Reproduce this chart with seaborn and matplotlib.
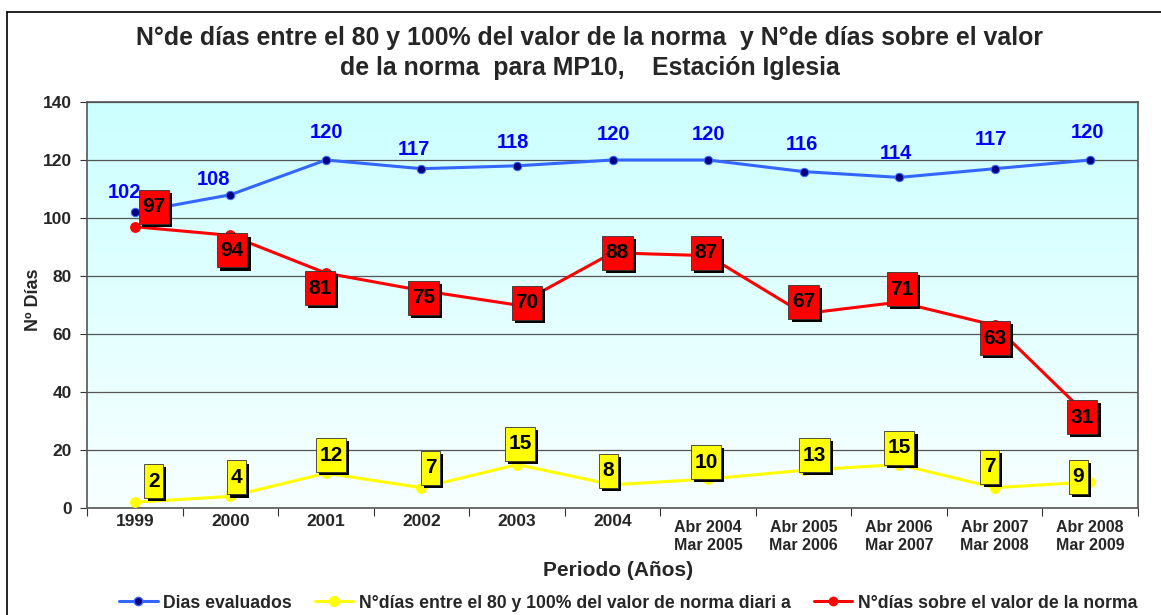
import numpy as np
import pandas as pd
import matplotlib
matplotlib.use("Agg")
import matplotlib.pyplot as plt
import matplotlib.patheffects as pe
import matplotlib.transforms as mtransforms
from matplotlib.path import Path
from matplotlib.lines import Line2D
import seaborn as sns

# data
periods = ["1999", "2000", "2001", "2002", "2003", "2004",
           "Abr 2004\nMar 2005", "Abr 2005\nMar 2006", "Abr 2006\nMar 2007",
           "Abr 2007\nMar 2008", "Abr 2008\nMar 2009"]
dias_evaluados = [102, 108, 120, 117, 118, 120, 120, 116, 114, 117, 120]
dias_80_100 = [2, 4, 12, 7, 15, 8, 10, 13, 15, 7, 9]
dias_sobre = [97, 94, 81, 75, 70, 88, 87, 67, 71, 63, 31]

# label offsets in pixels (right, up) from each point
blue_off = [(-10, 20), (-17, 15), (1, 27), (-7, 19), (-4, 23), (1, 25), (0, 25), (-2, 27), (-3, 24), (-4, 29), (-3, 28)]
red_off = [(19, 20), (2, -15), (-6, -15), (2, -7), (10, 2), (5, 0), (-2, 3), (0, 12), (3, 13), (0, -13), (-8, 1)]
yel_off = [(19, 21), (6, 19), (5, 18), (9, 20), (3, 21), (-4, 14), (-2, 17), (11, 15), (0, 17), (-5, 21), (-12, 5)]

sns.set_style("white")
plt.rcParams['font.family'] = ['Liberation Sans', 'DejaVu Sans']
plt.rcParams['font.weight'] = 'bold'

df = pd.DataFrame({"periodo": periods, "eval": dias_evaluados,
                   "p80": dias_80_100, "sobre": dias_sobre})
df["x"] = np.arange(len(periods)) + 0.5

fig = plt.figure(figsize=(11.61, 6.15), dpi=100)
ax = fig.add_axes([87/1161, 1 - 508/615, (1138-87)/1161, (508-102)/615])

# gradient background cyan -> white
grad = np.linspace(0, 1, 256).reshape(-1, 1)
cmap = matplotlib.colors.LinearSegmentedColormap.from_list("bg", ["#f8ffff", "#ccffff"])
ax.imshow(grad, aspect="auto", cmap=cmap, extent=(0, 11, 0, 140), origin="lower", zorder=0)

sns.lineplot(data=df, x="x", y="eval", ax=ax, color="#3366ff", lw=2.2, marker="o",
             markersize=6, markerfacecolor="#000080", markeredgecolor="#3366ff", zorder=3)
sns.lineplot(data=df, x="x", y="p80", ax=ax, color="#ffff00", lw=2.2, marker="o",
             markersize=7, markerfacecolor="#ffff00", markeredgecolor="#ffff00", zorder=3)
sns.lineplot(data=df, x="x", y="sobre", ax=ax, color="#ff0000", lw=2.2, marker="o",
             markersize=7, markerfacecolor="#ff0000", markeredgecolor="#ff0000", zorder=3)


def tallbox(x0, y0, width, height, mutation_size):
    px = 0.17 * mutation_size
    py = 0.36 * mutation_size
    x0, y0 = x0 - px, y0 - py
    x1, y1 = x0 + width + 2 * px, y0 + height + 2 * py
    return Path([(x0, y0), (x1, y0), (x1, y1), (x0, y1), (x0, y0)], closed=True)


def boxed(x, y, val, off, face):
    t = ax.annotate(str(val), (x, y), xytext=off, textcoords="offset pixels",
                    ha="center", va="center", fontsize=15, fontweight="bold", color="black",
                    bbox=dict(boxstyle=tallbox, fc=face, ec="#333333", lw=0.6), zorder=6)
    t.get_bbox_patch().set_path_effects(
        [pe.SimplePatchShadow(offset=(2.3, -2.3), shadow_rgbFace="black", alpha=1), pe.Normal()])


for i, row in df.iterrows():
    ax.annotate(str(row["eval"]), (row["x"], row["eval"]), xytext=blue_off[i],
                textcoords="offset pixels", ha="center", va="center",
                fontsize=14.5, fontweight="bold", color="#0000ff", zorder=6)
    boxed(row["x"], row["sobre"], row["sobre"], red_off[i], "#ff0000")
    boxed(row["x"], row["p80"], row["p80"], yel_off[i], "#ffff00")

ax.set_xlim(0, 11)
ax.set_ylim(0, 140)
ax.set_yticks(range(0, 141, 20))
ax.yaxis.grid(True, color="#555555", lw=0.9)
for ln in ax.get_ygridlines():
    ln.set_zorder(1)
ax.set_xticks(range(0, 12))
ax.set_xticklabels([])
ax.set_xticks(df["x"], minor=True)
ax.set_xticklabels(periods, minor=True, fontweight="bold")
ax.tick_params(axis="x", which="major", direction="out", length=6, color="#333333", bottom=True)
ax.tick_params(axis="x", which="minor", length=0, pad=9)
ax.tick_params(axis="y", direction="out", length=5, color="#333333", left=True, labelsize=12.5, pad=6)
lift = mtransforms.ScaledTranslation(0, 7/100, fig.dpi_scale_trans)
for t, p in zip(ax.get_xticklabels(minor=True), periods):
    if "\n" in p:
        t.set_fontsize(11.5)
    else:
        t.set_fontsize(12.5)
        t.set_transform(t.get_transform() + lift)
for t in ax.get_yticklabels():
    t.set_fontweight("bold")
ax.set_xlabel("")
ax.set_ylabel("")
fig.text(33/1161, 1 - 300/615, "Nº Días", rotation=90, ha="center", va="center",
         fontsize=13, fontweight="bold")
for s in ax.spines.values():
    s.set_color("#555555")
    s.set_linewidth(1.2)

fig.text(590/1161, 1 - 38/615, "N°de días entre el 80 y 100% del valor de la norma  y N°de días sobre el valor",
         ha="center", va="center", fontsize=17.9, fontweight="bold")
fig.text(590/1161, 1 - 68/615, "de la norma  para MP10,    Estación Iglesia",
         ha="center", va="center", fontsize=17.9, fontweight="bold")
fig.text(618/1161, 1 - 570/615, "Periodo (Años)", ha="center", va="center",
         fontsize=15, fontweight="bold")

handles = [
    Line2D([], [], color="#3366ff", lw=2.2, marker="o", markersize=6,
           markerfacecolor="#000080", markeredgecolor="#3366ff"),
    Line2D([], [], color="#ffff00", lw=2.2, marker="o", markersize=7,
           markerfacecolor="#ffff00", markeredgecolor="#ffff00"),
    Line2D([], [], color="#ff0000", lw=2.2, marker="o", markersize=6,
           markerfacecolor="#ff0000", markeredgecolor="#ff0000"),
]
labels = ["Dias evaluados", "N°días entre el 80 y 100% del valor de norma diari a",
          "N°días sobre el valor de la norma"]
fig.legend(handles, labels, loc="center", bbox_to_anchor=(628/1161, 1 - 603/615), ncol=3,
           frameon=False, prop=dict(size=12.7, weight="bold"), handlelength=2.2,
           handletextpad=0.3, columnspacing=1.3, borderpad=0)

# outer frame
fig.add_artist(Line2D([7/1161, 7/1161], [0, 1 - 12/615], color="black", lw=1.2))
fig.add_artist(Line2D([7/1161, 1], [1 - 12/615, 1 - 12/615], color="black", lw=1.2))

fig.savefig("out.png", dpi=100)
